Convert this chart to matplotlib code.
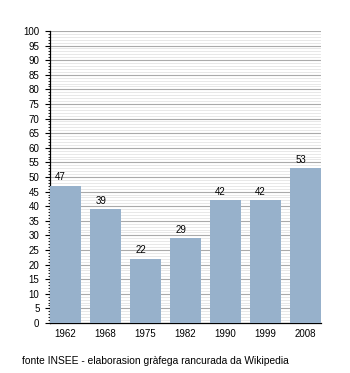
import matplotlib.pyplot as plt
from matplotlib.ticker import MultipleLocator

plt.rcParams["font.family"] = ["Liberation Sans", "DejaVu Sans"]

# Population data
years = ["1962", "1968", "1975", "1982", "1990", "1999", "2008"]
population = [47, 39, 22, 29, 42, 42, 53]

bar_width = 0.775

fig = plt.figure(figsize=(3.5, 3.73), dpi=100)
ax = fig.add_axes([0.143, 0.134, 0.774, 0.783])

x = range(len(years))
ax.bar(x, population, width=bar_width, color="#97b1cb", zorder=3)

for xi, v in zip(x, population):
    ax.annotate(str(v), (xi, v), xytext=(-3.5, 2.5), textcoords="offset points",
                ha="center", va="bottom", fontsize=7, zorder=4)

ax.set_xlim(-bar_width / 2, len(years) - 1 + bar_width / 2)
ax.set_ylim(0, 100)
ax.set_xticks(list(x))
ax.set_xticklabels(years, fontsize=7)
ax.yaxis.set_major_locator(MultipleLocator(5))
ax.yaxis.set_minor_locator(MultipleLocator(1))
ax.tick_params(axis="y", labelsize=7, length=3.6, width=0.8, pad=4)
ax.tick_params(axis="y", which="minor", length=1.8, width=0.6)
ax.tick_params(axis="x", length=0, pad=4)

ax.grid(axis="y", which="major", color="#aaaaaa", linewidth=0.8, zorder=1)
ax.grid(axis="y", which="minor", color="#e4e4e4", linewidth=0.6, zorder=0)

for side in ["top", "right"]:
    ax.spines[side].set_visible(False)
ax.spines["left"].set_linewidth(0.9)
ax.spines["bottom"].set_linewidth(0.9)

fig.text(0.063, 0.032, "fonte INSEE - elaborasion gràfega rancurada da Wikipedia",
         fontsize=7.4, ha="left", va="center")

fig.savefig("out.png", dpi=100)
